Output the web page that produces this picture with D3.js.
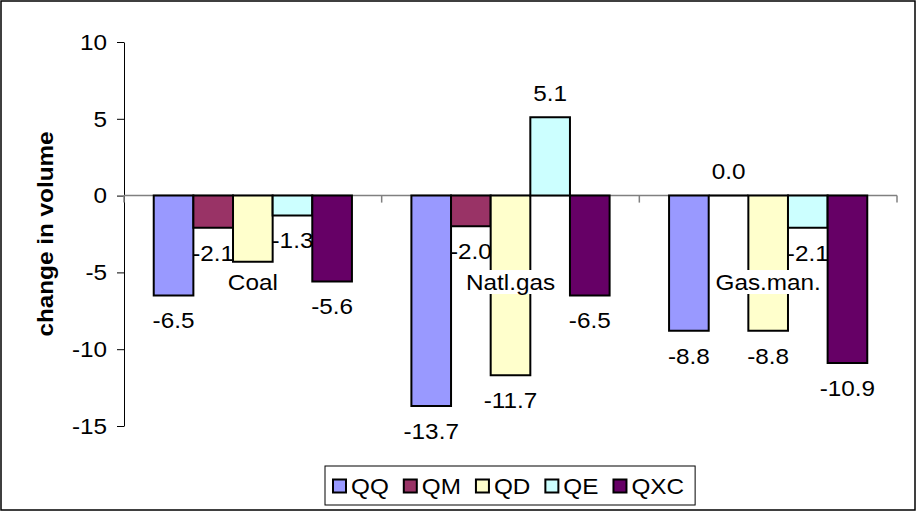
<!DOCTYPE html>
<html>
<head>
<meta charset="utf-8">
<script src="https://cdn.jsdelivr.net/npm/d3@7"></script>
<style>
  html, body { margin: 0; padding: 0; background: #fff; }
  svg { display: block; }
  text { font-family: "Liberation Sans", Arial, sans-serif; fill: #000; }
</style>
</head>
<body>
<svg id="chart" width="917" height="512"></svg>
<script>
// Fuel categories and the five volume-change series
const categories = ["Coal", "Natl.gas", "Gas.man."];
const seriesNames = ["QQ", "QM", "QD", "QE", "QXC"];
const QQ  = [-6.5, -13.7, -8.8];
const QM  = [-2.1,  -2.0,  0.0];
const QD  = [-4.3, -11.7, -8.8];
const QE  = [-1.3,   5.1, -2.1];
const QXC = [-5.6,  -6.5, -10.9];
const yTicks = [-15, -10, -5, 0, 5, 10];
const yTitle = "change in volume";
// value labels sitting behind a category caption are not shown
const hiddenLabels = [["Coal", "QD"]];

const seriesValues = { QQ, QM, QD, QE, QXC };
const colors = {
  QQ: "#9999FF", QM: "#993366", QD: "#FFFFCC", QE: "#CCFFFF", QXC: "#660066"
};

const W = 917, H = 512;
const plot = { left: 124, right: 897, top: 42, bottom: 426 };
const FS = 22.5, SX = 1.08; // font size and horizontal text stretch

// plain hyphen for negative numbers
const loc = d3.formatLocale({ decimal: ".", thousands: ",", grouping: [3], currency: ["", ""], minus: "-" });
const fmtTick = loc.format("d");
const fmtVal = loc.format(".1f");

const svg = d3.select("#chart");

// outer frame
svg.append("rect")
  .attr("x", 1).attr("y", 1).attr("width", W - 3).attr("height", H - 3)
  .attr("fill", "#fff").attr("stroke", "#000").attr("stroke-width", 1.5);

const y = d3.scaleLinear().domain([-15, 10]).range([plot.bottom, plot.top]);
const x0 = d3.scaleBand().domain(categories).range([plot.left, plot.right]).padding(0);
const x1 = d3.scaleBand().domain(seriesNames).range([0, x0.bandwidth()])
  .paddingInner(0).paddingOuter(0.75);

// stretch text horizontally about its anchor
function stretch(sel, sx) {
  sel.each(function () {
    const t = d3.select(this);
    const x = +t.attr("x") || 0;
    t.attr("transform", `translate(${x},0) scale(${sx},1) translate(${-x},0)`);
  });
}

// y axis
const yAxis = svg.append("g")
  .attr("transform", `translate(${plot.left},0)`)
  .call(d3.axisLeft(y).tickValues(yTicks).tickSize(7).tickSizeOuter(0).tickPadding(10)
    .tickFormat(fmtTick));
yAxis.attr("font-family", null).attr("font-size", null);
yAxis.select(".domain").attr("stroke", "#000").attr("stroke-width", 1);
yAxis.selectAll(".tick line").attr("stroke", "#000");
yAxis.selectAll(".tick text")
  .attr("font-size", FS)
  .call(stretch, SX);

// y axis title
svg.append("text")
  .attr("transform", `translate(45,234) rotate(-90) scale(${SX},1)`)
  .attr("text-anchor", "middle").attr("dy", "0.35em")
  .attr("font-size", FS).attr("font-weight", "bold")
  .text(yTitle);

// zero line with category separators
const axisG = svg.append("g");
axisG.append("line")
  .attr("x1", plot.left).attr("x2", plot.right)
  .attr("y1", y(0)).attr("y2", y(0))
  .attr("stroke", "#808080").attr("stroke-width", 1.5);
const bounds = categories.map(c => x0(c)).concat([x0(categories[categories.length - 1]) + x0.bandwidth()]);
axisG.selectAll("line.sep")
  .data(bounds)
  .join("line").attr("class", "sep")
  .attr("x1", d => d).attr("x2", d => d)
  .attr("y1", y(0)).attr("y2", y(0) + 7)
  .attr("stroke", "#808080").attr("stroke-width", 1.5);

// bars (paths, so a zero-height bar still shows its outline)
const rows = [];
categories.forEach((c, i) => {
  seriesNames.forEach(s => rows.push({ cat: c, series: s, value: seriesValues[s][i] }));
});

svg.append("g").selectAll("path")
  .data(rows)
  .join("path")
  .attr("d", d => {
    const xa = x0(d.cat) + x1(d.series), xb = xa + x1.bandwidth();
    const ya = y(0), yb = y(d.value);
    return `M${xa},${ya}H${xb}V${yb}H${xa}Z`;
  })
  .attr("fill", d => colors[d.series])
  .attr("stroke", "#000").attr("stroke-width", 2);

// value labels
const isHidden = d => hiddenLabels.some(h => h[0] === d.cat && h[1] === d.series);
svg.append("g").selectAll("text")
  .data(rows.filter(d => !isHidden(d)))
  .join("text")
  .attr("x", d => x0(d.cat) + x1(d.series) + x1.bandwidth() / 2)
  .attr("y", d => d.value >= 0 ? y(d.value) - 24 : y(d.value) + 25)
  .attr("dy", "0.35em")
  .attr("text-anchor", "middle").attr("font-size", FS)
  .text(d => fmtVal(d.value))
  .call(stretch, SX);

// category captions on white boxes
const capG = svg.append("g");
categories.forEach(c => {
  const g = capG.append("g");
  const cx = x0(c) + x0.bandwidth() / 2;
  const t = g.append("text")
    .attr("x", cx).attr("y", 282).attr("dy", "0.35em")
    .attr("text-anchor", "middle").attr("font-size", FS)
    .text(c);
  const w = t.node().getComputedTextLength() * SX;
  g.insert("rect", "text")
    .attr("x", cx - w / 2 - 3).attr("y", 282 - 12)
    .attr("width", w + 6).attr("height", 24)
    .attr("fill", "#fff");
  t.call(stretch, SX);
});

// legend
const legend = svg.append("g");
const legItems = legend.append("g");
let lx = 333;
const ly = 486;
seriesNames.forEach(s => {
  legItems.append("rect")
    .attr("x", lx).attr("y", ly - 6.5).attr("width", 13).attr("height", 13)
    .attr("fill", colors[s]).attr("stroke", "#000").attr("stroke-width", 2);
  const t = legItems.append("text")
    .attr("x", lx + 18).attr("y", ly).attr("dy", "0.35em")
    .attr("font-size", FS).text(s);
  t.call(stretch, SX);
  lx += 18 + t.node().getComputedTextLength() * SX + 15;
});
legend.insert("rect", "g")
  .attr("x", 325).attr("y", 466).attr("width", lx - 325 - 4).attr("height", 39)
  .attr("fill", "#fff").attr("stroke", "#000").attr("stroke-width", 1);
</script>
</body>
</html>
